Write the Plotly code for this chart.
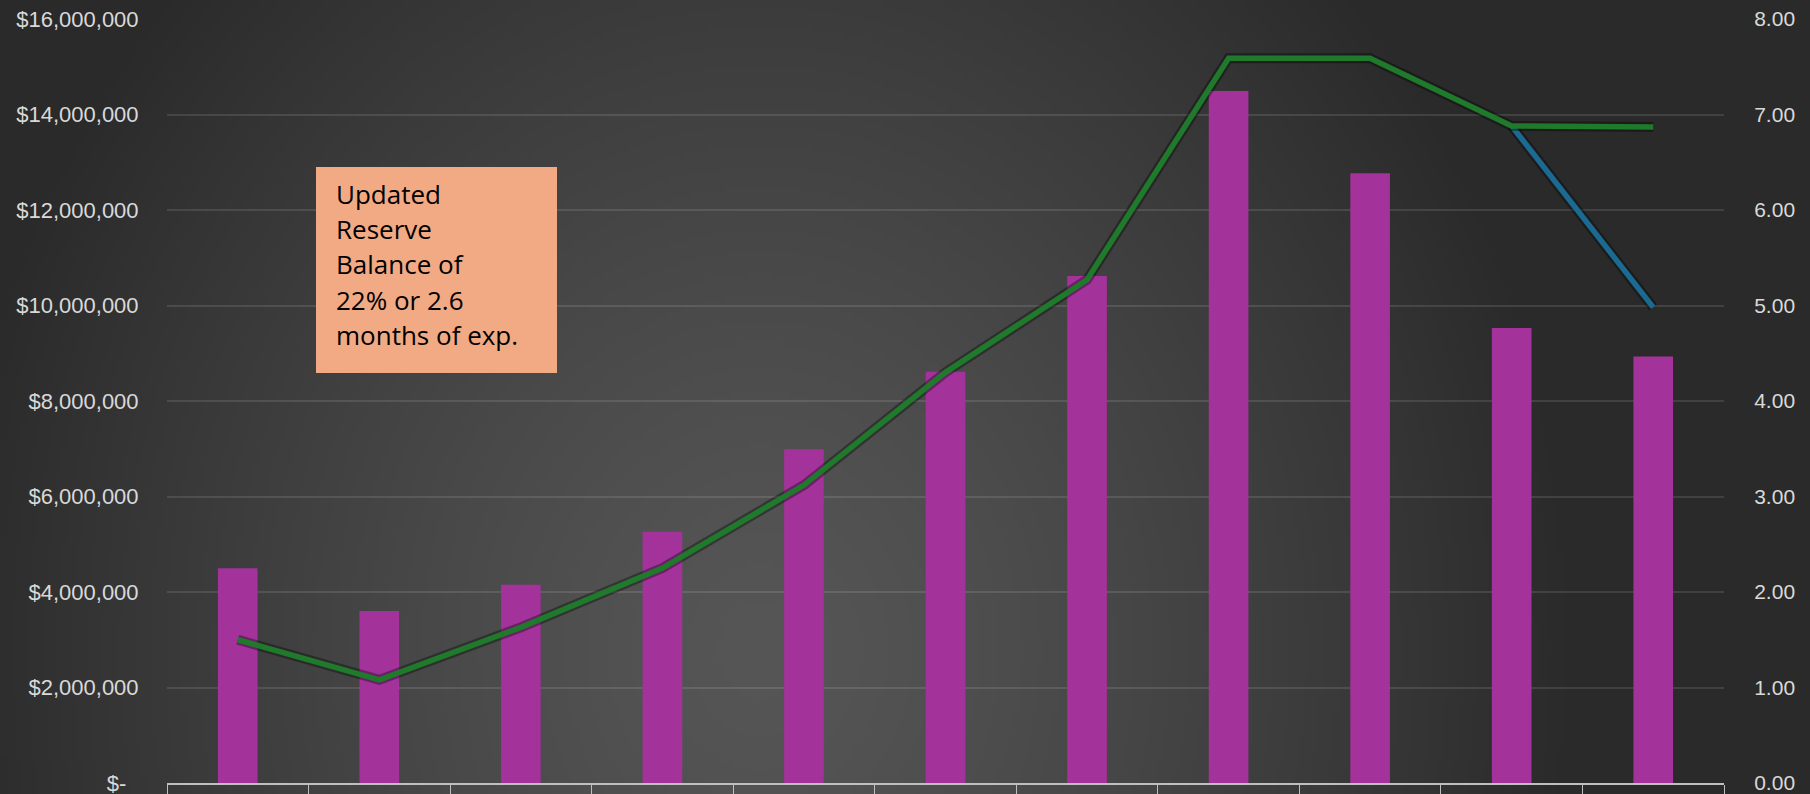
import base64
import struct
import zlib

import numpy as np
import plotly.graph_objects as go

# ---------------- data ----------------
years = ["2014", "2015", "2016", "2017", "2018", "2019", "2020", "2021", "2022", "2023", "2024"]
reserve_balance = [4.50e6, 3.60e6, 4.15e6, 5.26e6, 6.99e6, 8.61e6, 10.62e6, 14.49e6, 12.77e6, 9.53e6, 8.93e6]
months_actual = [1.50, 1.08, 1.63, 2.25, 3.12, 4.30, 5.27, 7.59, 7.59, 6.88, 6.87]
months_updated = [None, None, None, None, None, None, None, None, None, 6.88, 4.98]
left_tickvals = [0, 2e6, 4e6, 6e6, 8e6, 10e6, 12e6, 14e6, 16e6]
left_ticktext = ["$-\u00a0\u00a0", "$2,000,000", "$4,000,000", "$6,000,000", "$8,000,000",
                 "$10,000,000", "$12,000,000", "$14,000,000", "$16,000,000"]
right_tickvals = [0, 1, 2, 3, 4, 5, 6, 7, 8]
right_ticktext = ["0.00", "1.00", "2.00", "3.00", "4.00", "5.00", "6.00", "7.00", "8.00"]
note_lines = ["Updated", "Reserve", "Balance of", "22% or 2.6", "months of exp."]

# ---------------- layout geometry ----------------
W, H = 1810, 794
ML, MR, MT, MB = 167, 86, 19, 11
PW, PH = W - ML - MR, H - MT - MB


def px_x(p):
    return (p - ML) / PW


def px_y(p):
    return (H - MB - p) / PH


# ---------------- background gradient image ----------------
gw, gh = 362, 159
xs = (np.arange(gw) + 0.5) * W / gw
ys = (np.arange(gh) + 0.5) * H / gh
X, Y = np.meshgrid(xs, ys)
d = np.sqrt(((X - 760) / 850) ** 2 + ((Y - 650) / 1000) ** 2)
v = np.clip(86 - 46 * d ** 1.3, 42, 90).astype(np.uint8)


def make_png(arr):
    h, w = arr.shape
    raw = b"".join(b"\x00" + arr[i].tobytes() for i in range(h))

    def chunk(tag, data):
        c = struct.pack(">I", len(data)) + tag + data
        return c + struct.pack(">I", zlib.crc32(tag + data) & 0xFFFFFFFF)

    return (b"\x89PNG\r\n\x1a\n"
            + chunk(b"IHDR", struct.pack(">IIBBBBB", w, h, 8, 0, 0, 0, 0))
            + chunk(b"IDAT", zlib.compress(raw, 9))
            + chunk(b"IEND", b""))


bg_uri = "data:image/png;base64," + base64.b64encode(make_png(v)).decode()

# ---------------- figure ----------------
fig = go.Figure()

fig.add_trace(go.Bar(
    x=years, y=reserve_balance, width=0.28,
    marker=dict(color="#a3329a", line=dict(width=0)),
    yaxis="y", showlegend=False,
))

# shadows + lines
fig.add_trace(go.Scatter(x=years, y=months_updated, mode="lines", yaxis="y2",
                         line=dict(color="rgba(0,0,0,0.35)", width=10), showlegend=False,
                         hoverinfo="skip"))
fig.add_trace(go.Scatter(x=years, y=months_updated, mode="lines", yaxis="y2",
                         line=dict(color="#1b6a92", width=5.5), showlegend=False))
fig.add_trace(go.Scatter(x=years, y=months_actual, mode="lines", yaxis="y2",
                         line=dict(color="rgba(0,0,0,0.35)", width=10), showlegend=False,
                         hoverinfo="skip"))
fig.add_trace(go.Scatter(x=years, y=months_actual, mode="lines", yaxis="y2",
                         line=dict(color="#1f7a2c", width=5.5), showlegend=False))

tick_font = dict(family="Liberation Sans, Arial, sans-serif", size=21, color="#d9d9d9")
left_font = dict(family="Liberation Sans, Arial, sans-serif", size=22, color="#d9d9d9")

annotations = []
for i, line in enumerate(note_lines):
    annotations.append(dict(
        text=line, xref="paper", yref="paper",
        x=px_x(334), y=px_y(194 + i * 35.2), xanchor="left", yanchor="middle",
        align="left", showarrow=False,
        font=dict(family="Open Sans, sans-serif", size=26, color="#000000"),
    ))

fig.update_layout(
    width=W, height=H,
    margin=dict(l=ML, r=MR, t=MT, b=MB, pad=0, autoexpand=False),
    paper_bgcolor="#2a2a2a",
    plot_bgcolor="rgba(0,0,0,0)",
    xaxis=dict(
        type="category", categoryorder="array", categoryarray=years,
        showgrid=False, showline=True, linecolor="#bfbfbf", linewidth=2,
        ticks="outside", tickson="boundaries", ticklen=20, tickcolor="#bfbfbf", tickwidth=1,
        tickfont=tick_font, ticklabelstandoff=-2, automargin=False,
        ticklabeloverflow="allow",
    ),
    yaxis=dict(
        range=[0, 16e6], tickvals=left_tickvals, ticktext=left_ticktext,
        showgrid=True, gridcolor="rgba(255,255,255,0.11)", gridwidth=1.5,
        zeroline=False, showline=False,
        ticks="outside", ticklen=23, tickcolor="rgba(0,0,0,0)",
        tickfont=left_font, automargin=False, ticklabeloverflow="allow",
    ),
    yaxis2=dict(
        range=[0, 8], overlaying="y", side="right",
        tickvals=right_tickvals, ticktext=right_ticktext,
        showgrid=False, zeroline=False, showline=False,
        ticks="outside", ticklen=25, tickcolor="rgba(0,0,0,0)",
        tickfont=tick_font, automargin=False, ticklabeloverflow="allow",
    ),
    images=[dict(
        source=bg_uri, xref="paper", yref="paper",
        x=-ML / PW, y=1 + MT / PH, sizex=W / PW, sizey=H / PH,
        xanchor="left", yanchor="top", sizing="stretch", layer="below",
    )],
    shapes=[dict(
        type="rect", xref="paper", yref="paper",
        x0=px_x(316), x1=px_x(557), y0=px_y(373), y1=px_y(167),
        fillcolor="#f2aa84", line=dict(width=0), layer="above",
    )],
    annotations=annotations,
)

fig.write_html(
    "out.html",
    config={"displayModeBar": False},
    post_script="document.body.style.margin='0';document.body.style.overflow='hidden';",
)
